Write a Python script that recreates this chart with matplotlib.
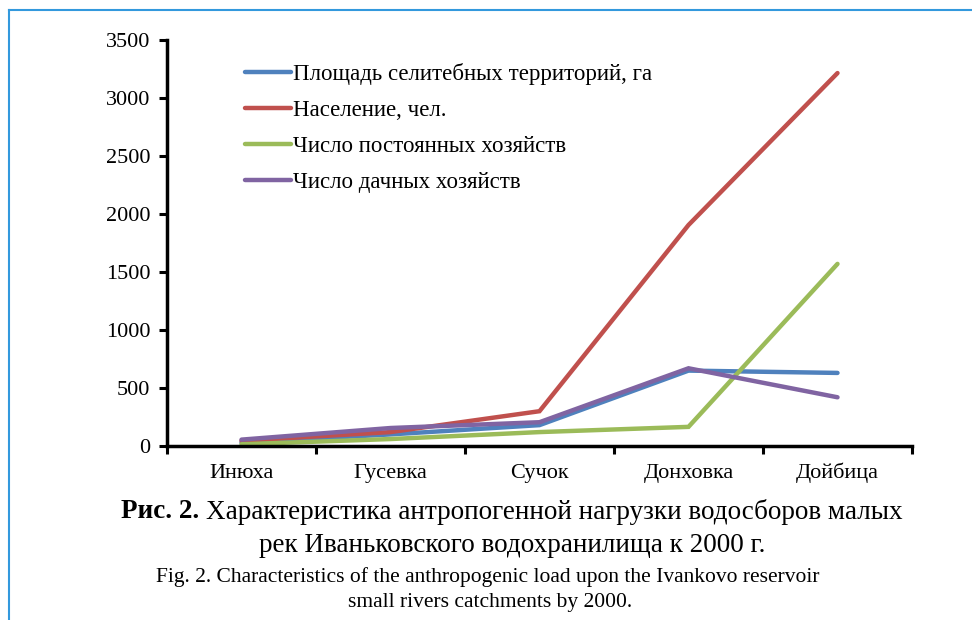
import matplotlib.pyplot as plt
from matplotlib.lines import Line2D
import numpy as np

# rivers of the Ivankovo reservoir catchment
rivers = ["Инюха", "Гусевка", "Сучок", "Донховка", "Дойбица"]

# load indicators by 2000
area_ha = [30, 100, 180, 650, 630]
population = [45, 120, 300, 1905, 3215]
permanent_households = [15, 60, 120, 165, 1570]
dacha_households = [55, 155, 205, 670, 420]

series_names = ["Площадь селитебных территорий, га", "Население, чел.",
                "Число постоянных хозяйств", "Число дачных хозяйств"]
colors = ["#4F81BD", "#C0504D", "#9BBB59", "#8064A2"]

plt.rcParams["font.family"] = ["Liberation Serif", "DejaVu Serif"]

W, H = 972, 620
fig = plt.figure(figsize=(W / 100, H / 100), dpi=100)
ax = fig.add_axes([167 / W, 1 - 446 / H, 745 / W, 406 / H])

x = np.arange(len(rivers))
for vals, col in zip([area_ha, population, permanent_households, dacha_households], colors):
    ax.plot(x, vals, color=col, lw=3.2, solid_capstyle="round", solid_joinstyle="miter")

ax.set_xlim(-0.5, len(rivers) - 0.5)
ax.set_ylim(0, 3500)
ax.set_yticks(np.arange(0, 3501, 500))
ax.set_xticks(x)
ax.set_xticklabels(rivers, va="baseline")
ax.set_xticks(np.arange(-0.5, len(rivers), 1), minor=True)
ax.tick_params(axis="x", which="major", length=0, pad=23, labelsize=16)
ax.tick_params(axis="x", which="minor", length=6, width=2.2, direction="out")
ax.tick_params(axis="y", length=6, width=2.2, direction="out", pad=6, labelsize=16)
for s in ["top", "right"]:
    ax.spines[s].set_visible(False)
for s in ["left", "bottom"]:
    ax.spines[s].set_linewidth(2.5)

# legend drawn inside the plot area
handles = [Line2D([], [], color=c, lw=3.2, solid_capstyle="round") for c in colors]
ax.legend(handles, series_names, loc="upper left", bbox_to_anchor=(69 / 745, 0.966),
          frameon=False, fontsize=16.5, handlelength=2.0, handletextpad=0.1,
          labelspacing=0.66, borderaxespad=0)

# caption: bold figure number followed by regular text, centred as one line
cap_size = 19.5
cx = 512 / W
y1 = 1 - 512 / H
bold = fig.text(0, y1, "Рис. 2. ", fontsize=cap_size, fontweight="bold", va="center")
rest = fig.text(0, y1, "Характеристика антропогенной нагрузки водосборов малых",
                fontsize=cap_size, va="center")
renderer = fig.canvas.get_renderer()
wb = bold.get_window_extent(renderer).width / W
wr = rest.get_window_extent(renderer).width / W
x0 = cx - (wb + wr) / 2
bold.set_x(x0)
rest.set_x(x0 + wb)

fig.text(cx, 1 - 545 / H, "рек Иваньковского водохранилища к 2000 г.",
         fontsize=cap_size, ha="center", va="center")
fig.text(488 / W, 1 - 577 / H,
         "Fig. 2. Characteristics of the anthropogenic load upon the Ivankovo reservoir",
         fontsize=15.5, ha="center", va="center")
fig.text(490 / W, 1 - 603 / H, "small rivers catchments by 2000.",
         fontsize=15.5, ha="center", va="center")

# page frame
fig.add_artist(Line2D([9 / W, 9 / W], [0, 1 - 10 / H], color="#3399DD", lw=1.5,
                      transform=fig.transFigure))
fig.add_artist(Line2D([9 / W, 1], [1 - 10 / H, 1 - 10 / H], color="#3399DD", lw=1.5,
                      transform=fig.transFigure))

fig.savefig("out.png", dpi=100)
